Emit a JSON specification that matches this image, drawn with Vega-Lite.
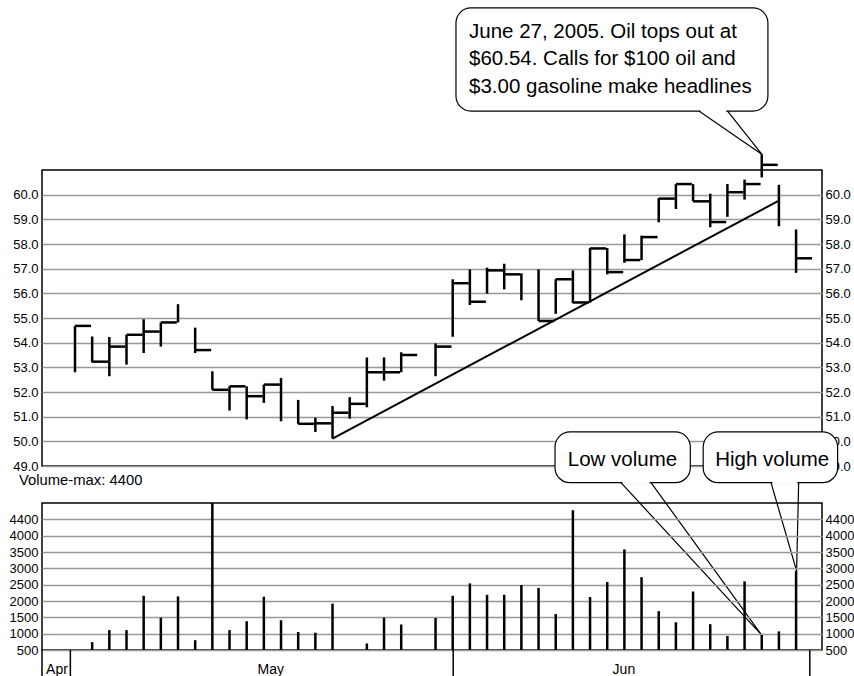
{
  "$schema": "https://vega.github.io/schema/vega-lite/v6.json",
  "background": "white",
  "padding": {"left": 8, "top": 6, "right": 0, "bottom": 0},
  "spacing": 37,
  "bounds": "flush",
  "config": {
    "font": "Liberation Sans",
    "view": {"stroke": "black", "strokeWidth": 1.5},
    "axis": {"labelFont": "Liberation Sans", "labelFontSize": 13, "labelColor": "black", "title": null},
    "text": {"font": "Liberation Sans", "color": "black"}
  },
  "datasets": {
    "ohlc": [
      {"day": "2005-05-02", "i": 0, "high": 54.68, "low": 52.80, "close": 54.68, "vol": null},
      {"day": "2005-05-03", "i": 1, "high": 54.25, "low": 53.20, "close": 53.23, "vol": 740},
      {"day": "2005-05-04", "i": 2, "high": 54.23, "low": 52.64, "close": 53.84, "vol": 1110},
      {"day": "2005-05-05", "i": 3, "high": 54.32, "low": 53.11, "close": 54.32, "vol": 1110},
      {"day": "2005-05-06", "i": 4, "high": 54.95, "low": 53.58, "close": 54.45, "vol": 2160},
      {"day": "2005-05-09", "i": 5, "high": 54.82, "low": 53.84, "close": 54.82, "vol": 1490},
      {"day": "2005-05-10", "i": 6, "high": 55.56, "low": 54.82, "close": null, "vol": 2140},
      {"day": "2005-05-11", "i": 7, "high": 54.61, "low": 53.58, "close": 53.70, "vol": 800},
      {"day": "2005-05-12", "i": 8, "high": 52.84, "low": 52.09, "close": 52.09, "vol": 5000},
      {"day": "2005-05-13", "i": 9, "high": 52.23, "low": 51.25, "close": 52.23, "vol": 1110},
      {"day": "2005-05-16", "i": 10, "high": 52.23, "low": 50.89, "close": 51.83, "vol": 1380},
      {"day": "2005-05-17", "i": 11, "high": 52.30, "low": 51.56, "close": 52.30, "vol": 2130},
      {"day": "2005-05-18", "i": 12, "high": 52.57, "low": 50.81, "close": null, "vol": 1410},
      {"day": "2005-05-19", "i": 13, "high": 51.68, "low": 50.71, "close": 50.71, "vol": 1050},
      {"day": "2005-05-20", "i": 14, "high": 50.96, "low": 50.38, "close": 50.73, "vol": 1030},
      {"day": "2005-05-23", "i": 15, "high": 51.43, "low": 50.11, "close": 51.16, "vol": 1920},
      {"day": "2005-05-24", "i": 16, "high": 51.79, "low": 50.92, "close": 51.52, "vol": null},
      {"day": "2005-05-25", "i": 17, "high": 53.40, "low": 51.38, "close": 52.80, "vol": 700},
      {"day": "2005-05-26", "i": 18, "high": 53.40, "low": 52.46, "close": 52.80, "vol": 1490},
      {"day": "2005-05-27", "i": 19, "high": 53.61, "low": 52.80, "close": 53.50, "vol": 1280},
      {"day": "2005-05-31", "i": 21, "high": 53.97, "low": 52.64, "close": 53.84, "vol": 1480},
      {"day": "2005-06-01", "i": 22, "high": 56.57, "low": 54.24, "close": 56.41, "vol": 2160},
      {"day": "2005-06-02", "i": 23, "high": 56.97, "low": 55.53, "close": 55.66, "vol": 2540},
      {"day": "2005-06-03", "i": 24, "high": 57.04, "low": 55.99, "close": 56.93, "vol": 2190},
      {"day": "2005-06-06", "i": 25, "high": 57.20, "low": 56.16, "close": 56.77, "vol": 2190},
      {"day": "2005-06-07", "i": 26, "high": 56.81, "low": 55.72, "close": null, "vol": 2490},
      {"day": "2005-06-08", "i": 27, "high": 56.97, "low": 54.88, "close": 54.88, "vol": 2400},
      {"day": "2005-06-09", "i": 28, "high": 56.57, "low": 55.17, "close": 56.57, "vol": 1600},
      {"day": "2005-06-10", "i": 29, "high": 56.93, "low": 55.60, "close": 55.63, "vol": 4780},
      {"day": "2005-06-13", "i": 30, "high": 57.84, "low": 55.62, "close": 57.82, "vol": 2120},
      {"day": "2005-06-14", "i": 31, "high": 57.84, "low": 56.77, "close": 56.86, "vol": 2580},
      {"day": "2005-06-15", "i": 32, "high": 58.39, "low": 57.24, "close": 57.35, "vol": 3580},
      {"day": "2005-06-16", "i": 33, "high": 58.34, "low": 57.35, "close": 58.28, "vol": 2730},
      {"day": "2005-06-17", "i": 34, "high": 59.86, "low": 58.88, "close": 59.84, "vol": 1690},
      {"day": "2005-06-20", "i": 35, "high": 60.43, "low": 59.42, "close": 60.43, "vol": 1350},
      {"day": "2005-06-21", "i": 36, "high": 60.43, "low": 59.73, "close": 59.73, "vol": 2290},
      {"day": "2005-06-22", "i": 37, "high": 60.04, "low": 58.68, "close": 58.89, "vol": 1290},
      {"day": "2005-06-23", "i": 38, "high": 60.43, "low": 59.10, "close": 60.10, "vol": 930},
      {"day": "2005-06-24", "i": 39, "high": 60.61, "low": 59.80, "close": 60.43, "vol": 2600},
      {"day": "2005-06-27", "i": 40, "high": 61.64, "low": 60.70, "close": 61.21, "vol": 960},
      {"day": "2005-06-28", "i": 41, "high": 60.40, "low": 58.72, "close": null, "vol": 1070},
      {"day": "2005-06-29", "i": 42, "high": 58.59, "low": 56.83, "close": 57.42, "vol": 2920}
    ],
    "trend": [{"i": 15, "price": 50.11}, {"i": 41, "price": 59.76}],
    "boxes": [
      {"note": "top", "x1": 22.19, "x2": 40.36, "y1": 63.39, "y2": 67.57},
      {"note": "low", "x1": 27.96, "x2": 35.84, "y1": 48.325, "y2": 50.38},
      {"note": "high", "x1": 36.59, "x2": 44.42, "y1": 48.325, "y2": 50.38}
    ],
    "openings": [
      {"note": "top", "a": 36.42, "b": 37.93, "price": 63.39},
      {"note": "low", "a": 31.88, "b": 33.47, "price": 48.325},
      {"note": "high", "a": 40.62, "b": 42.07, "price": 48.325}
    ],
    "tails": [
      {"note": "top", "i": 36.34, "price": 63.39, "k": 0},
      {"note": "top", "i": 40, "price": 61.64, "k": 1},
      {"note": "top", "i": 38.01, "price": 63.39, "k": 2},
      {"note": "low", "i": 31.8, "price": 48.325, "k": 0},
      {"note": "low", "i": 40, "price": 42.147, "k": 1},
      {"note": "low", "i": 33.55, "price": 48.325, "k": 2},
      {"note": "high", "i": 40.54, "price": 48.325, "k": 0},
      {"note": "high", "i": 42.03, "price": 44.745, "k": 1},
      {"note": "high", "i": 42.15, "price": 48.325, "k": 2}
    ],
    "topText": [{"i": 22.95, "price": 66.36, "lines": ["June 27, 2005. Oil tops out at", "$60.54. Calls for $100 oil and", "$3.00 gasoline make headlines"]}],
    "volText": [
      {"label": "Low volume", "i": 31.89, "price": 49.0},
      {"label": "High volume", "i": 40.61, "price": 49.0}
    ],
    "monthEdges": [{"b": -1.922}, {"b": -0.27}, {"b": 22.03}, {"b": 42.8}],
    "months": [{"month": "Apr", "mid": -1.05}, {"month": "May", "mid": 11.4}, {"month": "Jun", "mid": 31.97}]
  },
  "vconcat": [
    {
      "width": 780,
      "height": 296,
      "layer": [
        {
          "data": {"name": "ohlc"},
          "mark": {"type": "rule", "color": "black", "strokeWidth": 2.5},
          "encoding": {
            "x": {"field": "i", "type": "quantitative", "scale": {"domain": [-1.922, 43.51], "nice": false, "zero": false}, "axis": null},
            "y": {"field": "low", "type": "quantitative", "scale": {"domain": [49, 61], "nice": false, "zero": false},
              "axis": {"orient": "left", "values": [49, 50, 51, 52, 53, 54, 55, 56, 57, 58, 59, 60], "format": ".1f", "grid": true, "gridColor": "#999999", "gridWidth": 1.5, "ticks": false, "domain": false, "labelPadding": 4, "title": null}},
            "y2": {"field": "high"}
          }
        },
        {
          "data": {"name": "ohlc"},
          "mark": {"type": "tick", "orient": "horizontal", "size": 16, "thickness": 2.5, "xOffset": 8, "color": "black", "opacity": 1},
          "encoding": {
            "x": {"field": "i", "type": "quantitative", "scale": {"domain": [-1.922, 43.51], "nice": false, "zero": false}, "axis": null},
            "y": {"field": "close", "type": "quantitative", "scale": {"domain": [49, 61], "nice": false, "zero": false},
              "axis": {"orient": "right", "values": [49, 50, 51, 52, 53, 54, 55, 56, 57, 58, 59, 60], "format": ".1f", "grid": false, "ticks": false, "domain": false, "labelPadding": 3, "title": null}}
          }
        },
        {
          "data": {"name": "trend"},
          "mark": {"type": "line", "color": "black", "strokeWidth": 2},
          "encoding": {
            "x": {"field": "i", "type": "quantitative", "scale": {"domain": [-1.922, 43.51], "nice": false, "zero": false}, "axis": null},
            "y": {"field": "price", "type": "quantitative", "scale": {"domain": [49, 61], "nice": false, "zero": false}, "axis": null}
          }
        },
        {
          "data": {"name": "boxes"},
          "mark": {"type": "rect", "fill": "white", "stroke": "black", "strokeWidth": 1.2, "cornerRadius": 15},
          "encoding": {
            "x": {"field": "x1", "type": "quantitative", "scale": {"domain": [-1.922, 43.51], "nice": false, "zero": false}, "axis": null},
            "x2": {"field": "x2"},
            "y": {"field": "y1", "type": "quantitative", "scale": {"domain": [49, 61], "nice": false, "zero": false}, "axis": null},
            "y2": {"field": "y2"}
          }
        },
        {
          "data": {"name": "openings"},
          "mark": {"type": "rule", "color": "white", "strokeWidth": 2.5},
          "encoding": {
            "x": {"field": "a", "type": "quantitative", "scale": {"domain": [-1.922, 43.51], "nice": false, "zero": false}, "axis": null},
            "x2": {"field": "b"},
            "y": {"field": "price", "type": "quantitative", "scale": {"domain": [49, 61], "nice": false, "zero": false}, "axis": null}
          }
        },
        {
          "data": {"name": "tails"},
          "mark": {"type": "line", "color": "black", "strokeWidth": 1.2},
          "encoding": {
            "x": {"field": "i", "type": "quantitative", "scale": {"domain": [-1.922, 43.51], "nice": false, "zero": false}, "axis": null},
            "y": {"field": "price", "type": "quantitative", "scale": {"domain": [49, 61], "nice": false, "zero": false}, "axis": null},
            "detail": {"field": "note", "type": "nominal"},
            "order": {"field": "k", "type": "quantitative"}
          }
        },
        {
          "data": {"name": "topText"},
          "mark": {"type": "text", "align": "left", "baseline": "alphabetic", "fontSize": 20.5, "lineHeight": 27.5, "color": "black"},
          "encoding": {
            "x": {"field": "i", "type": "quantitative", "scale": {"domain": [-1.922, 43.51], "nice": false, "zero": false}, "axis": null},
            "y": {"field": "price", "type": "quantitative", "scale": {"domain": [49, 61], "nice": false, "zero": false}, "axis": null},
            "text": {"field": "lines"}
          }
        },
        {
          "data": {"name": "volText"},
          "mark": {"type": "text", "align": "center", "baseline": "alphabetic", "fontSize": 20.5, "color": "black"},
          "encoding": {
            "x": {"field": "i", "type": "quantitative", "scale": {"domain": [-1.922, 43.51], "nice": false, "zero": false}, "axis": null},
            "y": {"field": "price", "type": "quantitative", "scale": {"domain": [49, 61], "nice": false, "zero": false}, "axis": null},
            "text": {"field": "label"}
          }
        }
      ],
      "resolve": {"axis": {"y": "independent"}}
    },
    {
      "width": 780,
      "height": 147,
      "title": {"text": "Volume-max: 4400", "anchor": "start", "frame": "group", "dx": -23, "offset": 2, "baseline": "alphabetic", "fontSize": 14.8, "fontWeight": "normal", "color": "black", "font": "Liberation Sans"},
      "layer": [
        {
          "data": {"name": "ohlc"},
          "mark": {"type": "rule", "color": "black", "strokeWidth": 2.5},
          "encoding": {
            "x": {"field": "i", "type": "quantitative", "scale": {"domain": [-1.922, 43.51], "nice": false, "zero": false}, "axis": null},
            "y": {"field": "vol", "type": "quantitative", "scale": {"domain": [500, 5000], "nice": false, "zero": false},
              "axis": {"orient": "left", "values": [500, 1000, 1500, 2000, 2500, 3000, 3500, 4000, 4500], "labelExpr": "datum.value == 4500 ? '4400' : format(datum.value, 'd')", "grid": true, "gridColor": "#999999", "gridWidth": 1.5, "ticks": false, "domain": false, "labelPadding": 4, "title": null}},
            "y2": {"datum": 500}
          }
        },
        {
          "data": {"name": "ohlc"},
          "mark": {"type": "rule", "opacity": 0},
          "encoding": {
            "x": {"field": "i", "type": "quantitative", "scale": {"domain": [-1.922, 43.51], "nice": false, "zero": false}, "axis": null},
            "y": {"field": "vol", "type": "quantitative", "scale": {"domain": [500, 5000], "nice": false, "zero": false},
              "axis": {"orient": "right", "values": [500, 1000, 1500, 2000, 2500, 3000, 3500, 4000, 4500], "labelExpr": "datum.value == 4500 ? '4400' : format(datum.value, 'd')", "grid": false, "ticks": false, "domain": false, "labelPadding": 3, "title": null}}
          }
        },
        {
          "data": {"name": "monthEdges"},
          "mark": {"type": "rule", "color": "black", "strokeWidth": 1.5},
          "encoding": {
            "x": {"field": "b", "type": "quantitative", "scale": {"domain": [-1.922, 43.51], "nice": false, "zero": false}, "axis": null},
            "y": {"datum": 500, "type": "quantitative", "scale": {"domain": [500, 5000], "nice": false, "zero": false}, "axis": null},
            "y2": {"datum": -326.7}
          }
        },
        {
          "data": {"name": "months"},
          "mark": {"type": "text", "align": "center", "baseline": "alphabetic", "fontSize": 14, "color": "black"},
          "encoding": {
            "x": {"field": "mid", "type": "quantitative", "scale": {"domain": [-1.922, 43.51], "nice": false, "zero": false}, "axis": null},
            "y": {"datum": -240, "type": "quantitative", "scale": {"domain": [500, 5000], "nice": false, "zero": false}, "axis": null},
            "text": {"field": "month"}
          }
        }
      ],
      "resolve": {"axis": {"y": "independent"}}
    }
  ]
}
